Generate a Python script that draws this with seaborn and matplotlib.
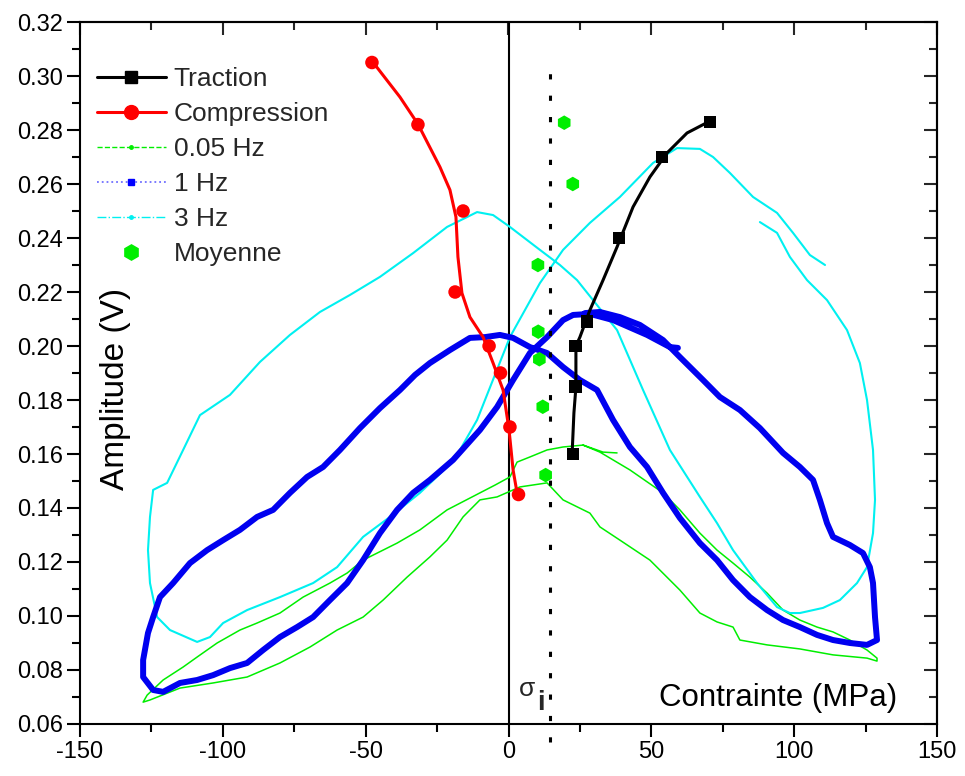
import numpy as np
import pandas as pd
import matplotlib
matplotlib.use("Agg")
import matplotlib.pyplot as plt
from matplotlib.lines import Line2D
from matplotlib.ticker import MultipleLocator, FormatStrFormatter
import seaborn as sns

# ---------------- data ----------------
# Traction (markers) and its fitted line
trac_x = [22.6, 23.5, 23.4, 27.4, 38.7, 53.7, 70.5]
trac_y = [0.160, 0.185, 0.200, 0.209, 0.240, 0.270, 0.283]
trac_line_x = [22.2, 22.9, 23.6, 23.6, 25.0, 28.5, 33.1, 38.0, 43.6, 49.5, 55.5, 62.5, 70.5]
trac_line_y = [0.1585, 0.1752, 0.1848, 0.2000, 0.2033, 0.2133, 0.2244, 0.2367, 0.2515,
               0.2626, 0.2715, 0.2789, 0.2833]

# Compression (markers) and its fitted line
comp_x = [-47.8, -31.7, -15.9, -18.7, -6.8, -2.8, 0.5, 3.5]
comp_y = [0.305, 0.282, 0.250, 0.220, 0.200, 0.190, 0.170, 0.145]
comp_line_x = [-47.8, -38.0, -31.7, -24.0, -20.5, -18.4, -17.7, -16.3, -13.5, -8.9,
               -5.4, -1.9, 0.2, 1.6, 3.0]
comp_line_y = [0.3056, 0.2922, 0.2822, 0.2663, 0.2578, 0.2478, 0.2330, 0.2196, 0.2107,
               0.2033, 0.1937, 0.1837, 0.1689, 0.1541, 0.1456]

# Moyenne
moy_x = [19.5, 22.5, 10.3, 10.4, 10.8, 12.0, 13.0]
moy_y = [0.2827, 0.2600, 0.2300, 0.2053, 0.1951, 0.1775, 0.1522]

# 0.05 Hz loop
g_x = [38.0, 33.1, 26.1, 19.1, 13.5, 7.5, 3.0, 0.5, -4.7, -10.0, -21.5, -31.0, -39.0,
       -50.9, -56.5, -62.5, -71.9, -80.0, -88.0, -94.0, -102.0, -109.0, -113.9, -120.9,
       -126.5, -127.9, -125.5, -115.0, -103.4, -91.5, -80.0, -69.5, -60.0, -50.9, -43.9,
       -35.5, -27.5, -21.5, -15.9, -10.0, -4.0, 4.0, 13.5, 19.1, 28.5, 32.0, 39.0, 49.5,
       60.0, 67.0, 73.0, 78.6, 81.0, 90.5, 102.0, 113.6, 125.5, 129.0, 129.0, 125.5,
       119.5, 113.6, 108.0, 102.0, 96.1, 90.5, 84.5, 78.6, 73.0, 67.0, 60.0, 54.1, 42.5,
       32.0, 26.1]
g_y = [0.1604, 0.1607, 0.1633, 0.1626, 0.1615, 0.1589, 0.1570, 0.1515, 0.1485, 0.1456,
       0.1393, 0.1319, 0.1270, 0.1207, 0.1159, 0.1122, 0.1070, 0.1011, 0.0974, 0.0948,
       0.0900, 0.0848, 0.0811, 0.0763, 0.0707, 0.0681, 0.0689, 0.0733, 0.0752, 0.0774,
       0.0826, 0.0885, 0.0948, 0.0996, 0.1059, 0.1144, 0.1219, 0.1281, 0.1367, 0.1430,
       0.1441, 0.1478, 0.1493, 0.1430, 0.1381, 0.1330, 0.1281, 0.1207, 0.1096, 0.1011,
       0.0978, 0.0959, 0.0911, 0.0893, 0.0878, 0.0856, 0.0844, 0.0833, 0.0844, 0.0874,
       0.0911, 0.0941, 0.0959, 0.0985, 0.1022, 0.1085, 0.1144, 0.1196, 0.1244, 0.1307,
       0.1393, 0.1456, 0.1541, 0.1607, 0.1633]

# 1 Hz loop
b_x = [59.3, 56.5, 48.5, 36.6, 28.5, 22.6, 19.1, 13.5, 7.5, 1.6, -4.0, -10.0, -19.4,
       -27.5, -33.4, -39.0, -45.0, -50.9, -56.5, -62.5, -68.4, -74.0, -80.0, -85.9,
       -91.5, -97.5, -103.4, -109.0, -115.0, -120.9, -124.4, -127.9, -127.9, -126.2,
       -124.4, -122.0, -117.4, -111.5, -105.5, -99.9, -94.0, -88.0, -82.4, -76.5, -70.5,
       -64.9, -59.0, -52.0, -45.0, -38.0, -32.7, -27.5, -20.5, -13.5, -8.2, -3.0, 1.6,
       7.5, 13.5, 19.1, 25.0, 31.0, 36.6, 42.5, 48.5, 54.1, 60.0, 67.0, 73.0, 78.6, 84.5,
       90.5, 96.1, 102.0, 108.0, 113.6, 119.5, 125.5, 129.0, 128.3, 127.6, 126.5, 124.1,
       119.5, 113.6, 111.5, 109.0, 106.6, 102.0, 96.1, 88.0, 81.0, 74.0, 68.1, 60.0, 54.1,
       46.0, 39.0, 32.0, 26.8]
b_y = [0.1993, 0.1996, 0.2041, 0.2096, 0.2119, 0.2115, 0.2096, 0.2033, 0.1974, 0.1874,
       0.1774, 0.1689, 0.1578, 0.1504, 0.1456, 0.1393, 0.1307, 0.1207, 0.1122, 0.1059,
       0.0996, 0.0959, 0.0922, 0.0874, 0.0826, 0.0807, 0.0781, 0.0763, 0.0752, 0.0719,
       0.0726, 0.0774, 0.0837, 0.0937, 0.0996, 0.1070, 0.1122, 0.1196, 0.1244, 0.1281,
       0.1319, 0.1367, 0.1393, 0.1456, 0.1515, 0.1552, 0.1615, 0.1696, 0.1770, 0.1837,
       0.1893, 0.1937, 0.1985, 0.2030, 0.2033, 0.2041, 0.2030, 0.1996, 0.1974, 0.1922,
       0.1874, 0.1837, 0.1726, 0.1626, 0.1552, 0.1456, 0.1363, 0.1270, 0.1207, 0.1133,
       0.1070, 0.1022, 0.0985, 0.0959, 0.0930, 0.0911, 0.0900, 0.0893, 0.0911, 0.0996,
       0.1122, 0.1181, 0.1233, 0.1263, 0.1293, 0.1344, 0.1430, 0.1504, 0.1552, 0.1604,
       0.1696, 0.1763, 0.1811, 0.1874, 0.1959, 0.2022, 0.2078, 0.2107, 0.2126, 0.2122]

# 3 Hz loop
c_x = [110.8, 105.5, 99.6, 94.0, 85.6, 77.5, 71.6, 67.0, 59.0, 50.6, 39.0, 28.5, 19.1,
       11.0, 0.5, -11.0, -17.0, -21.5, -31.0, -41.5, -50.9, -60.0, -68.4, -80.0, -91.5,
       -99.9, -104.5, -109.0, -118.5, -123.0, -125.5, -126.2, -125.5, -124.4, -119.5,
       -113.9, -108.0, -97.5, -87.0, -76.5, -66.0, -55.5, -45.0, -33.4, -21.5, -11.0,
       -5.4, 0.5, 11.0, 18.0, 24.0, 38.0, 47.1, 56.5, 67.0, 73.0, 78.6, 87.0, 94.0, 98.5,
       102.0, 110.1, 116.0, 122.0, 125.5, 127.6, 128.3, 127.6, 125.5, 123.0, 118.5, 111.5,
       104.5, 98.5, 94.0, 88.0]
c_y = [0.2300, 0.2337, 0.2419, 0.2493, 0.2552, 0.2641, 0.2700, 0.2730, 0.2733, 0.2678,
       0.2552, 0.2456, 0.2356, 0.2233, 0.2033, 0.1726, 0.1615, 0.1552, 0.1456, 0.1367,
       0.1293, 0.1181, 0.1122, 0.1070, 0.1022, 0.0974, 0.0922, 0.0904, 0.0948, 0.0996,
       0.1122, 0.1244, 0.1367, 0.1467, 0.1493, 0.1615, 0.1744, 0.1819, 0.1941, 0.2041,
       0.2126, 0.2189, 0.2256, 0.2344, 0.2441, 0.2496, 0.2485, 0.2441, 0.2356, 0.2300,
       0.2244, 0.2059, 0.1837, 0.1615, 0.1441, 0.1344, 0.1244, 0.1122, 0.1033, 0.1011,
       0.1011, 0.1030, 0.1059, 0.1122, 0.1181, 0.1307, 0.1430, 0.1615, 0.1800, 0.1937,
       0.2059, 0.2170, 0.2244, 0.2330, 0.2419, 0.2459]

sigma_i = 14.5
sigma_span = [0.0533, 0.302]

labels = ["Traction", "Compression", "0.05 Hz", "1 Hz", "3 Hz", "Moyenne"]

# ---------------- style ----------------
sns.set_theme(style="ticks")
plt.rcParams["font.family"] = ["Liberation Sans", "DejaVu Sans"]
plt.rcParams["axes.unicode_minus"] = False

fig = plt.figure(figsize=(9.65, 7.76), dpi=100)
ax = fig.add_axes([80 / 965, 52 / 776, 857 / 965, 702 / 776])

GREEN = "#00ee00"
BLUE = "#0000f0"
CYAN = "#00f0f0"

sns.lineplot(x=g_x, y=g_y, sort=False, estimator=None, color=GREEN, lw=1.1, ax=ax)
sns.lineplot(x=c_x, y=c_y, sort=False, estimator=None, color=CYAN, lw=1.5, ax=ax)
sns.lineplot(x=b_x, y=b_y, sort=False, estimator=None, color=BLUE, lw=4.3, ax=ax)

sns.lineplot(x=comp_line_x, y=comp_line_y, sort=False, estimator=None, color="red", lw=2.2, ax=ax)
sns.scatterplot(x=comp_x, y=comp_y, marker="o", s=95, color="red", edgecolor="none", ax=ax, zorder=5)
sns.lineplot(x=trac_line_x, y=trac_line_y, sort=False, estimator=None, color="black", lw=2.2, ax=ax)
sns.scatterplot(x=trac_x, y=trac_y, marker="s", s=80, color="black", edgecolor="none", ax=ax, zorder=5)
sns.scatterplot(x=moy_x, y=moy_y, marker="h", s=110, color="#00ee00", edgecolor="none", ax=ax, zorder=5)

ax.axvline(0, color="black", lw=1.5, zorder=1)
ax.plot([sigma_i, sigma_i], sigma_span, color="black", lw=2.2, dashes=(1.7, 5.3),
        clip_on=False, zorder=4)

ax.set_xlim(-150, 150)
ax.set_ylim(0.06, 0.32)
ax.xaxis.set_major_locator(MultipleLocator(50))
ax.xaxis.set_minor_locator(MultipleLocator(25))
ax.yaxis.set_major_locator(MultipleLocator(0.02))
ax.yaxis.set_minor_locator(MultipleLocator(0.01))
ax.yaxis.set_major_formatter(FormatStrFormatter("%.2f"))

for s in ax.spines.values():
    s.set_visible(True)
    s.set_linewidth(1.5)
    s.set_color("black")

ax.tick_params(which="major", direction="out", length=9.5, width=1.5, labelsize=17,
               color="black", labelcolor="black", pad=3)
ax.tick_params(which="minor", direction="out", length=5.5, width=1.5, color="black")
# mirrored inward ticks on top and right
axt = ax.secondary_xaxis("top")
axt.xaxis.set_major_locator(MultipleLocator(50))
axt.xaxis.set_minor_locator(MultipleLocator(25))
axt.tick_params(which="major", direction="in", length=9.5, width=1.5, labeltop=False)
axt.tick_params(which="minor", direction="in", length=5.5, width=1.5)
axr = ax.secondary_yaxis("right")
axr.yaxis.set_major_locator(MultipleLocator(0.02))
axr.yaxis.set_minor_locator(MultipleLocator(0.01))
axr.tick_params(which="major", direction="in", length=9.5, width=1.5, labelright=False)
axr.tick_params(which="minor", direction="in", length=5.5, width=1.5)
for s in list(axt.spines.values()) + list(axr.spines.values()):
    s.set_linewidth(1.5)

ax.set_ylabel("Amplitude (V)", fontsize=24, color="black")
ax.yaxis.set_label_coords(0.042, 0.478)
ax.yaxis.label.set_va("center")
ax.set_xlabel("Contrainte (MPa)", fontsize=22.5, color="black")
ax.xaxis.set_label_coords(0.815, 0.037)
ax.xaxis.label.set_va("center")

ax.text(3.8, 0.0702, "σ", fontsize=19, ha="left", va="baseline")
ax.text(10.0, 0.0652, "i", fontsize=20, fontweight="bold", ha="left", va="baseline")

handles = [
    Line2D([], [], color="black", lw=2.2, marker="s", ms=9),
    Line2D([], [], color="red", lw=2.2, marker="o", ms=10),
    Line2D([], [], color=GREEN, lw=1.0, ls="--", marker="o", ms=2.5),
    Line2D([], [], color="#7070ff", lw=1.3, ls=":", marker="s", ms=5,
           mfc="#0000ff", mec="#0000ff"),
    Line2D([], [], color=CYAN, lw=1.0, ls="-.", marker="o", ms=2.5),
    Line2D([], [], color=GREEN, lw=0, marker="h", ms=11),
]
ax.legend(handles, labels, loc="upper left", bbox_to_anchor=(0.02, 0.936), frameon=False,
          fontsize=19, handlelength=2.6, handletextpad=0.3, labelspacing=0.42,
          borderpad=0, borderaxespad=0)

fig.savefig("out.png", dpi=100, facecolor="white")
